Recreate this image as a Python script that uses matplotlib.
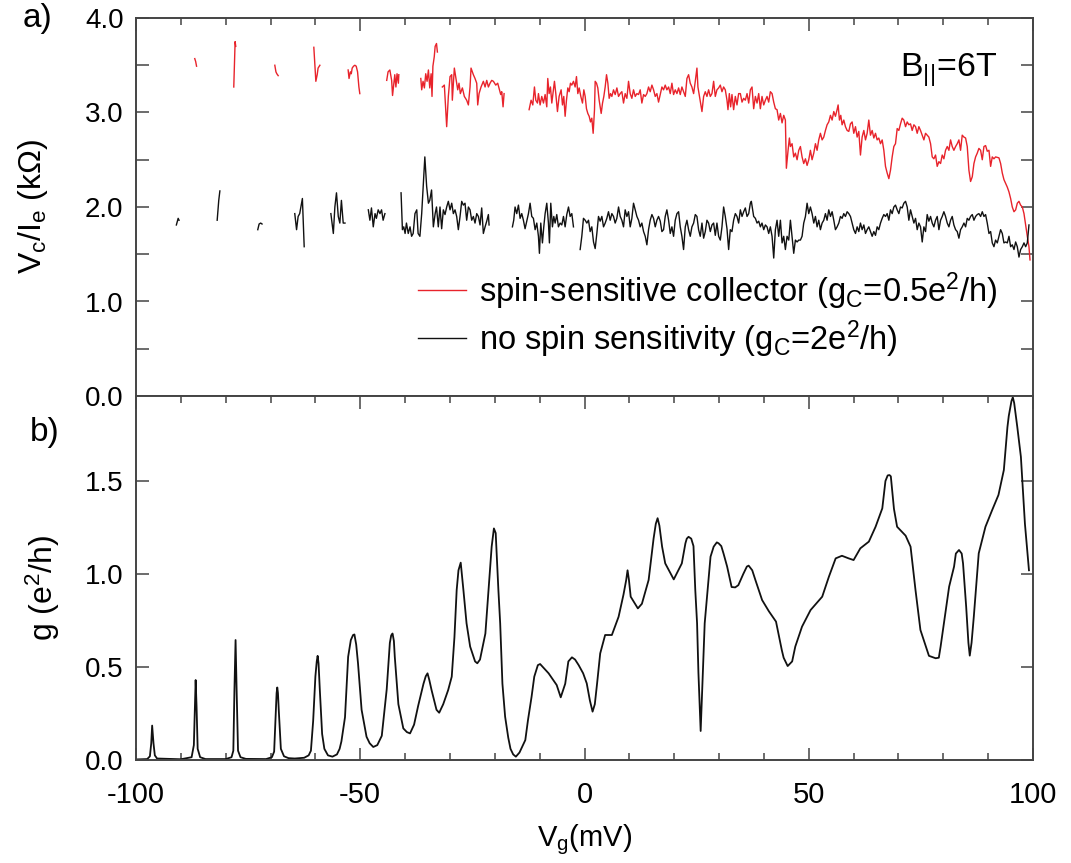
import numpy as np
import matplotlib
matplotlib.use("Agg")
import matplotlib.pyplot as plt
from matplotlib.ticker import MultipleLocator, FormatStrFormatter

plt.rcParams['font.family'] = ['Liberation Sans', 'DejaVu Sans']
plt.rcParams['mathtext.fontset'] = 'custom'
plt.rcParams['mathtext.rm'] = 'Liberation Sans'
plt.rcParams['mathtext.it'] = 'Liberation Sans'
plt.rcParams['mathtext.default'] = 'rm'
plt.rcParams['axes.unicode_minus'] = False

nan = np.nan

# ---------------- panel a: red trace (spin-sensitive collector) ----------------
red_x = [-86.9, -86.7, -86.5, nan,
         -78.2, -78.06, -77.9, -77.76, nan,
         -69.05, -68.8, -68.6, -68.3, nan,
         -60.35, -60.1, -59.9, -59.6, -59.4, -59.0, nan,
         -52.7, -52.5, -52.2, -52.0, -51.8, -51.5, -51.2, -50.9, -50.6, -50.3, -50.1, nan,
         -44.1, -43.8, -43.4, -43.0, -42.8, -42.5, -42.3, -42.05, -41.8, -41.5, -41.4, nan,
         -36.5, -36.3, -36.0, -35.7, -35.4, -35.1, -34.8, -34.5, -34.2, -34.0, -33.8, -33.5, -33.3, -33.0, -32.8, nan,
         -31.7, -31.25, -30.73, -30.36, -29.98, -29.61, -29.47, -29.02, -28.72, -28.27, -27.98, -27.68, -27.23,
         -26.79, -26.27, -25.89, -25.52, -25.30, -24.78, -24.41, -24.03, -23.81, -23.51, -23.07, -22.55, -22.17,
         -21.80, -21.43, -21.06, -20.69, -20.31, -19.79, -19.35, -18.97, -18.68, -18.45, -18.16, -17.93, nan,
         -12.35, -11.91, -11.53, -11.16, -10.86, -10.49, -10.27, -9.90, -9.53, -9.15, -8.78, -8.41, -8.19, -7.89,
         -7.59, -7.29, -6.92, -6.70, -6.40, -6.03, -5.66, -5.21, -4.91, -4.62, -4.32, -4.02, -3.72, -3.42, -3.13,
         -2.83, -2.46, -2.09, -1.79, -1.49, -1.19, -0.82, -0.45, -0.15, 0.15, 0.44, 0.74, 1.04, 1.34, 1.63, 1.93,
         2.23, 2.38, 2.68, 2.97, 3.27, 3.72, 4.02, 4.31, 4.61, 4.91, 5.21, 5.50, 5.80, 6.10, 6.47, 6.84, 7.22,
         7.59, 7.96, 8.33, 8.70, 9.07, 9.45, 9.82, 10.19, 10.56, 10.93, 11.31, 11.68, 12.05, 12.42, 12.79, 13.17,
         13.54, 13.91, 14.28, 14.65, 15.03, 15.40, 15.77, 16.14, 16.51, 16.89, 17.26, 17.63, 18.00, 18.37, 18.75,
         19.12, 19.49, 19.86, 20.23, 20.61, 20.98, 21.35, 21.72, 22.09, 22.47, 22.84, 23.21, 23.58, 23.95, 24.33,
         24.70, 25.07, 25.29, 26.19, 26.56, 26.93, 27.30, 27.67, 28.05, 28.42, 28.79, 29.16, 29.53, 29.91, 30.28,
         30.65, 31.02, 31.39, 31.77, 31.99, 32.29, 32.58, 32.88, 33.25, 33.63, 34.00, 34.37, 34.75, 35.12, 35.49,
         35.86, 36.24, 36.61, 36.98, 37.35, 37.72, 38.10, 38.47, 38.84, 39.21, 39.58, 39.96, 40.33, 40.70, 41.07,
         41.44, 41.82, 42.19, 42.56, 42.93, 43.30, 43.68, 44.05, 44.42, 44.79, 45.01, 45.39, 45.68, 45.91, 46.28,
         46.65, 47.02, 47.40, 47.77, 48.14, 48.51, 48.88, 49.26, 49.63, 50.00, 50.37, 50.74, 51.12, 51.49, 51.86,
         52.23, 52.60, 52.98, 53.35, 53.72, 54.09, 54.46, 54.84, 55.21, 55.58, 55.95, 56.32, 56.55, 56.84, 57.14,
         57.44, 57.81, 58.18, 58.56, 58.93, 59.30, 59.67, 60.04, 60.42, 60.79, 61.16, 61.53, 61.90, 62.28, 62.65,
         63.02, 63.39, 63.76, 64.14, 64.51, 64.88, 65.25, 65.62, 66.00, 66.37, 66.74, 67.11, 67.48, 67.86, 68.23,
         68.60, 68.97, 69.34, 69.72, 70.09, 70.46, 70.83, 71.20, 71.58, 71.95, 72.32, 72.69, 73.06, 73.44, 73.81,
         74.18, 74.55, 74.92, 75.30, 75.67, 76.04, 76.41, 76.78, 77.16, 77.53, 77.90, 78.27, 78.64, 79.02, 79.39,
         79.76, 80.13, 80.50, 80.88, 81.25, 81.62, 81.99, 82.36, 82.74, 83.11, 83.48, 83.85, 84.22, 84.60, 84.97,
         85.34, 85.71, 86.08, 86.46, 86.83, 87.20, 87.57, 87.94, 88.32, 88.69, 89.06, 89.43, 89.80, 90.18, 90.55,
         90.92, 91.29, 91.66, 92.41, 92.78, 93.15, 93.52, 93.90, 94.27, 94.64, 95.01, 95.38, 95.76, 96.13, 96.50,
         96.87, 97.24, 97.62, 97.99, 98.36, 98.73, 99.10, 99.33]
red_y = [3.57, 3.54, 3.49, nan,
         3.27, 3.48, 3.75, 3.70, nan,
         3.50, 3.43, 3.41, 3.39, nan,
         3.69, 3.49, 3.33, 3.40, 3.47, 3.50, nan,
         3.45, 3.36, 3.43, 3.41, 3.47, 3.49, 3.50, 3.49, 3.43, 3.27, 3.20, nan,
         3.34, 3.43, 3.45, 3.34, 3.18, 3.31, 3.40, 3.27, 3.41, 3.31, 3.40, nan,
         3.36, 3.24, 3.33, 3.26, 3.41, 3.33, 3.45, 3.26, 3.41, 3.17, 3.49, 3.59, 3.70, 3.73, 3.64, nan,
         3.27, 3.29, 2.85, 3.17, 3.38, 3.40, 3.13, 3.47, 3.38, 3.24, 3.31, 3.20, 3.26,
         3.17, 3.13, 3.08, 3.27, 3.47, 3.40, 3.36, 3.31, 3.08, 3.20, 3.27, 3.33, 3.27,
         3.34, 3.27, 3.31, 3.34, 3.33, 3.29, 3.31, 3.24, 3.19, 3.22, 3.06, 3.20, nan,
         3.03, 3.13, 3.08, 3.27, 3.13, 3.10, 3.20, 3.08, 3.17, 3.10, 3.19, 3.06, 3.36, 3.20,
         3.27, 3.10, 3.24, 3.33, 3.20, 3.01, 3.17, 3.24, 3.08, 3.17, 2.96, 3.13, 3.26, 3.22, 3.31,
         3.29, 3.33, 3.27, 3.38, 3.20, 3.26, 3.17, 3.10, 3.24, 3.17, 3.04, 2.99, 2.96, 2.90, 2.94, 2.78,
         3.03, 3.33, 3.31, 3.26, 3.13, 2.99, 3.10, 3.17, 3.27, 3.40, 3.31, 3.15, 3.20, 3.17, 3.24, 3.19, 3.26,
         3.17, 3.20, 3.22, 3.10, 3.20, 3.15, 3.33, 3.20, 3.15, 3.24, 3.17, 3.20, 3.19, 3.24, 3.10, 3.19,
         3.17, 3.20, 3.27, 3.22, 3.29, 3.24, 3.17, 3.20, 3.11, 3.19, 3.27, 3.24, 3.29, 3.24, 3.27,
         3.20, 3.31, 3.19, 3.24, 3.20, 3.26, 3.19, 3.27, 3.22, 3.17, 3.36, 3.40, 3.31, 3.27, 3.20,
         3.33, 3.47, 3.27, 3.01, 3.17, 3.22, 3.17, 3.24, 3.17, 3.20, 3.33, 3.17, 3.24, 3.26, 3.29,
         3.22, 3.27, 3.24, 3.13, 3.03, 3.20, 3.06, 3.19, 3.03, 3.17, 3.08, 3.20, 3.20, 3.11, 3.15,
         3.13, 3.20, 3.10, 3.24, 3.27, 3.04, 3.17, 3.10, 3.20, 3.04, 3.17, 3.08, 3.13, 3.17, 3.11,
         3.22, 3.20, 3.11, 3.04, 3.03, 2.92, 2.99, 2.89, 2.97, 2.92, 2.41, 2.60, 2.73, 2.64, 2.67,
         2.53, 2.57, 2.50, 2.60, 2.64, 2.53, 2.46, 2.51, 2.44, 2.50, 2.60, 2.50, 2.57, 2.67, 2.60,
         2.71, 2.78, 2.71, 2.74, 2.81, 2.87, 2.90, 2.97, 2.92, 3.01, 2.96, 3.03, 3.08, 2.92, 2.97,
         2.87, 2.92, 2.85, 2.81, 2.80, 2.88, 2.90, 2.78, 2.85, 2.74, 2.80, 2.55, 2.74, 2.81, 2.71,
         2.78, 2.92, 2.76, 2.81, 2.73, 2.78, 2.71, 2.73, 2.67, 2.71, 2.60, 2.43, 2.36, 2.30, 2.39,
         2.53, 2.64, 2.67, 2.83, 2.81, 2.88, 2.94, 2.92, 2.85, 2.90, 2.87, 2.88, 2.81, 2.87, 2.85,
         2.78, 2.85, 2.81, 2.76, 2.71, 2.78, 2.76, 2.74, 2.67, 2.53, 2.51, 2.55, 2.43, 2.48, 2.46,
         2.55, 2.51, 2.60, 2.64, 2.60, 2.71, 2.64, 2.60, 2.64, 2.67, 2.71, 2.60, 2.76, 2.74, 2.73,
         2.64, 2.39, 2.27, 2.32, 2.46, 2.53, 2.57, 2.62, 2.60, 2.50, 2.64, 2.65, 2.59, 2.60, 2.43,
         2.53, 2.51, 2.53, 2.52, 2.46, 2.36, 2.29, 2.25, 2.21, 2.16, 2.09, 2.00, 1.95, 1.97, 2.04,
         2.06, 2.02, 2.00, 1.93, 1.81, 1.69, 1.58, 1.44]

# ---------------- panel a: black trace (no spin sensitivity) ----------------
black_x = [-91.0, -90.6, -90.4, nan,
           -81.9, -81.55, -81.3, nan,
           -72.85, -72.55, -72.2, -71.9, nan,
           -64.6, -64.2, -63.85, -63.5, -63.1, -62.9, -62.5, nan,
           -56.55, -56.0, -55.66, -55.3, -54.9, -54.55, -54.2, -53.8, -53.4, nan,
           -48.2, -47.85, -47.5, -47.1, -46.7, -46.4, -46.0, -45.6, -45.25, -44.9, -44.5, nan,
           -40.9, -40.6, -40.3, -40.0, -39.7, -39.3, -38.9, -38.55, -38.2, -37.8, -37.4, -37.1, -36.7, -36.3,
           -35.95, -35.6, -35.2, -34.8, -34.5, -34.1, -33.7, -33.3, -33.0, -32.6, -32.22, -31.85, -31.47, -31.10,
           -30.73, -30.36, -29.98, -29.61, -29.24, -28.87, -28.50, -28.13, -27.75, -27.38, -27.01, -26.64, -26.27,
           -25.89, -25.52, -25.15, -24.78, -24.41, -24.03, -23.66, -23.29, -22.92, -22.55, -22.17, -21.80, -21.43,
           -21.28, nan,
           -16.07, -15.78, -15.48, -15.11, -14.73, -14.36, -13.99, -13.62, -13.25, -12.87, -12.50, -12.13, -11.76,
           -11.39, -11.01, -10.64, -10.27, -10.05, -9.75, -9.38, -9.08, -8.78, -8.41, -8.04, -7.82, -7.52, -7.15,
           -6.85, -6.55, -6.18, -5.81, -5.43, -5.06, -4.69, -4.32, -3.95, -3.57, -3.20, -2.83, -2.46, nan,
           -0.97, -0.60, -0.23, 0.15, 0.52, 0.89, 1.26, 1.63, 2.01, 2.38, 2.75, 3.12, 3.49, 3.87, 4.24, 4.61,
           4.98, 5.35, 5.73, 6.10, 6.47, 6.84, 7.21, 7.59, 7.96, 8.33, 8.70, 9.07, 9.45, 9.82, 10.19, 10.56,
           10.93, 11.31, 11.68, 12.05, 12.42, 12.79, 13.17, 13.54, 13.91, 14.28, 14.65, 15.03, 15.40, 15.77,
           16.14, 16.51, 16.89, 17.26, 17.63, 18.00, 18.37, 18.75, 19.12, 19.49, 19.86, 20.23, 20.61, 20.98,
           21.35, 21.72, 22.09, 22.47, 22.84, 23.21, 23.58, 23.95, 24.33, 24.70, 25.07, 25.44, 25.81, 26.19,
           26.56, 26.93, 27.30, 27.67, 28.05, 28.42, 28.79, 29.16, 29.53, 29.91, 30.28, 30.65, 31.02, 31.39,
           31.77, 32.14, 32.51, 32.88, 33.25, 33.63, 34.00, 34.37, 34.75, 35.12, 35.49, 35.86, 36.24, 36.61,
           36.98, 37.20, 37.50, 37.72, 38.10, 38.47, 38.84, 39.21, 39.58, 39.96, 40.33, 40.70, 41.07, 41.44,
           41.82, 42.19, 42.56, 42.93, 43.30, 43.68, 44.05, 44.42, 44.79, 45.16, 45.54, 45.91, 46.28, 46.65,
           47.02, 47.40, 47.77, 48.14, 48.51, 48.88, 49.26, 49.63, 50.00, 50.37, 50.74, 51.12, 51.49, 51.86,
           52.23, 52.60, 52.98, 53.35, 53.72, 54.09, 54.46, 54.84, 55.21, 55.58, 55.95, 56.32, 56.70, 57.07,
           57.44, 57.81, 58.18, 58.56, 58.93, 59.30, 59.67, 60.04, 60.42, 60.79, 61.16, 61.53, 61.90, 62.28,
           62.65, 63.02, 63.39, 63.76, 64.14, 64.51, 64.88, 65.25, 65.62, 66.00, 66.37, 66.74, 67.11, 67.48,
           67.86, 68.23, 68.60, 68.97, 69.34, 69.72, 70.09, 70.46, 70.83, 71.20, 71.58, 71.95, 72.32, 72.69,
           73.06, 73.44, 73.81, 74.18, 74.55, 74.92, 75.30, 75.67, 76.04, 76.41, 76.78, 77.16, 77.53, 77.90,
           78.27, 78.64, 79.02, 79.39, 79.76, 80.13, 80.50, 80.88, 81.25, 81.62, 81.99, 82.36, 82.74, 83.11,
           83.48, 83.85, 84.22, 84.60, 84.97, 85.34, 85.71, 86.08, 86.46, 86.83, 87.20, 87.57, 87.94, 88.32,
           88.69, 89.06, 89.43, 89.80, 90.18, 90.55, 90.92, 91.29, 91.66, 92.04, 92.41, 92.78, 93.15, 93.52,
           93.90, 94.27, 94.64, 95.01, 95.38, 95.76, 96.13, 96.50, 96.87, 97.24, 97.62, 97.99, 98.36, 98.73,
           99.10]
black_y = [1.81, 1.88, 1.86, nan,
           1.86, 2.07, 2.17, nan,
           1.76, 1.82, 1.83, 1.82, nan,
           1.93, 1.76, 1.90, 1.93, 2.04, 2.09, 1.58, nan,
           1.93, 1.72, 2.00, 2.15, 1.90, 1.83, 2.07, 1.83, 1.83, nan,
           1.97, 1.86, 1.99, 1.79, 1.93, 1.88, 1.97, 1.93, 1.97, 1.86, 1.93, nan,
           2.15, 1.76, 1.79, 1.72, 1.83, 1.72, 1.79, 1.69, 1.72, 1.93, 1.97, 1.72, 1.69, 1.93,
           2.22, 2.53, 2.22, 2.04, 2.07, 2.18, 1.79, 1.93, 2.00, 1.79, 2.00, 1.77, 1.97, 1.92,
           2.00, 2.06, 1.97, 2.04, 1.93, 1.97, 1.90, 1.76, 1.90, 2.06, 2.02, 2.04, 1.86,
           2.00, 1.97, 1.86, 1.90, 1.83, 1.93, 1.90, 1.81, 1.99, 1.72, 1.79, 1.85, 1.92,
           1.81, nan,
           1.79, 1.86, 2.00, 1.93, 2.02, 1.88, 1.93, 1.86, 1.77, 1.85, 1.93, 2.04, 1.90,
           1.88, 1.76, 1.83, 1.69, 1.51, 1.83, 1.62, 1.79, 1.93, 2.04, 1.83, 1.62, 2.04, 1.79,
           1.90, 1.83, 1.92, 1.79, 1.83, 1.81, 1.90, 1.79, 1.92, 2.00, 1.90, 1.93, 1.79, nan,
           1.55, 1.69, 1.88, 1.86, 1.83, 1.86, 1.74, 1.79, 1.63, 1.56, 1.72, 1.90, 1.85, 1.90, 1.79, 1.83,
           1.88, 1.95, 1.86, 1.93, 1.90, 1.83, 1.88, 2.00, 1.90, 1.86, 1.79, 1.97, 1.90, 1.95, 1.79, 1.88,
           2.04, 1.97, 1.90, 1.86, 1.79, 1.83, 1.74, 1.69, 1.60, 1.76, 1.86, 1.92, 1.88, 1.79,
           1.86, 1.90, 1.85, 1.74, 1.76, 1.90, 1.97, 1.86, 1.72, 1.79, 1.69, 1.86, 1.93, 1.95,
           1.79, 1.69, 1.55, 1.79, 1.86, 1.76, 1.69, 1.79, 1.83, 1.92, 1.90, 1.76, 1.69, 1.83,
           1.67, 1.74, 1.86, 1.83, 1.74, 1.81, 1.83, 1.70, 1.83, 1.69, 1.65, 1.79, 2.00, 1.90,
           1.77, 1.55, 1.76, 1.74, 1.86, 1.93, 1.90, 1.83, 1.97, 1.90, 1.95, 1.99, 1.90, 1.93,
           2.04, 2.06, 1.97, 1.90, 1.88, 1.83, 1.85, 1.79, 1.83, 1.76, 1.81, 1.79, 1.72, 1.79,
           1.69, 1.46, 1.76, 1.86, 1.69, 1.86, 1.62, 1.69, 1.55, 1.69, 1.65, 1.86, 1.69, 1.51,
           1.65, 1.63, 1.65, 1.65, 1.69, 1.83, 1.90, 2.04, 1.93, 2.00, 1.93, 1.83, 1.90, 1.79,
           1.86, 1.76, 1.83, 1.86, 1.93, 1.86, 1.97, 1.90, 1.95, 1.86, 1.76, 1.79, 1.83, 1.90,
           1.88, 1.93, 1.90, 1.95, 1.93, 1.90, 1.83, 1.76, 1.72, 1.79, 1.74, 1.83, 1.76, 1.81,
           1.72, 1.76, 1.79, 1.74, 1.69, 1.74, 1.70, 1.79, 1.76, 1.83, 1.88, 1.92, 1.90, 1.93,
           1.86, 1.97, 1.93, 2.00, 2.02, 1.97, 1.93, 2.00, 1.99, 2.04, 2.06, 2.00, 1.86, 1.97,
           1.90, 1.83, 1.88, 1.76, 1.83, 1.79, 1.63, 1.79, 1.74, 1.92, 1.85, 1.90, 1.83, 1.79,
           1.86, 1.90, 1.76, 1.86, 1.90, 1.95, 1.90, 1.83, 1.79, 1.86, 1.90, 1.81, 1.76, 1.74,
           1.67, 1.76, 1.79, 1.83, 1.79, 1.88, 1.86, 1.90, 1.92, 1.86, 1.90, 1.92, 1.93, 1.90,
           1.95, 1.90, 1.92, 1.83, 1.72, 1.74, 1.62, 1.58, 1.65, 1.62, 1.69, 1.76, 1.72, 1.62,
           1.63, 1.62, 1.69, 1.58, 1.60, 1.55, 1.63, 1.58, 1.47, 1.55, 1.58, 1.62, 1.58, 1.62,
           1.81]

# ---------------- panel b: conductance ----------------
g_x = [-100.0, -97.5, -96.9, -96.6, -96.4, -96.1, -95.8, -95.3, -90.0, -87.6, -87.1, -86.85, -86.7,
       -86.5, -86.25, -85.7, -84.5, -80.0, -78.7, -78.3, -78.05, -77.8, -77.55, -77.25, -76.7, -75.5,
       -71.0, -69.7, -69.2, -68.85, -68.65, -68.5, -68.35, -68.15, -67.7, -67.0, -66.0, -64.6, -62.5,
       -61.5, -61.0, -60.5, -60.0, -59.7, -59.5, -59.3, -59.0, -58.5, -58.0, -57.2, -56.2, -55.2,
       -54.6, -54.2, -53.4, -52.7, -52.1, -51.6, -51.3, -50.9, -50.5, -49.7, -48.6, -47.9, -47.1,
       -46.2, -45.2, -44.1, -43.4, -43.1, -42.8, -42.5, -42.3, -41.5, -40.4, -39.6, -38.9, -38.0,
       -37.1, -35.9, -35.4, -35.0, -34.6, -34.1, -33.0, -32.4, -31.5, -30.4, -29.6, -29.0, -28.5,
       -28.1, -27.6, -27.0, -26.3, -25.5, -24.4, -23.9, -23.3, -22.1, -21.4, -20.7, -20.2, -19.8,
       -19.2, -18.8, -18.3, -17.7, -17.0, -16.5, -15.9, -15.3, -14.5, -13.2, -12.6, -11.8, -11.2,
       -10.4, -9.9, -9.3, -8.0, -6.2, -5.3, -4.3, -3.6, -2.8, -2.1, -1.3, -0.3, 0.5, 1.2, 1.8, 2.3,
       2.8, 3.5, 4.6, 6.1, 7.6, 8.7, 9.3, 9.6, 9.9, 10.3, 11.9, 12.8, 14.3, 15.4, 15.9, 16.3, 16.7,
       17.3, 18.0, 19.9, 21.7, 22.5, 22.8, 23.2, 23.8, 24.3, 24.7, 25.1, 25.4, 25.9, 26.4, 26.8,
       28.1, 28.8, 29.5, 29.9, 30.5, 31.0, 31.8, 32.8, 33.6, 34.3, 35.4, 36.2, 36.6, 37.4, 38.1,
       39.6, 41.1, 42.7, 44.0, 44.4, 45.3, 46.3, 47.0, 48.5, 50.4, 53.0, 54.5, 56.0, 57.4, 58.9,
       60.0, 61.5, 63.4, 64.9, 66.4, 67.1, 67.6, 68.0, 68.3, 69.0, 69.7, 71.6, 72.7, 73.8, 74.9,
       76.0, 76.8, 78.3, 79.0, 79.4, 81.3, 82.4, 82.8, 83.5, 84.1, 84.4, 85.1, 85.6, 85.9, 86.3,
       86.8, 87.9, 89.4, 90.9, 92.3, 93.5, 94.3, 94.6, 95.2, 95.5, 95.8, 96.1, 96.5, 97.3, 98.2,
       99.1]
g_y = [0.003, 0.005, 0.02, 0.09, 0.185, 0.09, 0.025, 0.008, 0.004, 0.015, 0.08, 0.30, 0.43,
       0.29, 0.06, 0.015, 0.005, 0.005, 0.015, 0.05, 0.38, 0.645, 0.36, 0.05, 0.015, 0.006,
       0.005, 0.015, 0.045, 0.25, 0.36, 0.39, 0.36, 0.26, 0.06, 0.02, 0.01, 0.008, 0.012,
       0.025, 0.05, 0.21, 0.45, 0.53, 0.56, 0.52, 0.37, 0.14, 0.06, 0.025, 0.018, 0.03,
       0.06, 0.10, 0.23, 0.555, 0.645, 0.672, 0.675, 0.62, 0.52, 0.27, 0.125, 0.09, 0.07,
       0.08, 0.13, 0.38, 0.63, 0.67, 0.68, 0.64, 0.555, 0.30, 0.17, 0.15, 0.143, 0.19,
       0.29, 0.41, 0.45, 0.466, 0.43, 0.376, 0.27, 0.254, 0.30, 0.376, 0.448, 0.66, 0.914,
       1.02, 1.061, 0.914, 0.735, 0.61, 0.53, 0.52, 0.54, 0.68, 0.914, 1.147, 1.245, 1.22,
       0.914, 0.735, 0.41, 0.233, 0.12, 0.06, 0.03, 0.018, 0.04, 0.107, 0.215, 0.34, 0.448,
       0.51, 0.516, 0.50, 0.466, 0.403, 0.337, 0.41, 0.53, 0.552, 0.54, 0.51, 0.466, 0.412, 0.32, 0.26, 0.30,
       0.41, 0.573, 0.672, 0.672, 0.77, 0.89, 0.968, 1.02, 0.97, 0.878, 0.815, 0.84, 0.968, 1.19, 1.27, 1.30, 1.26,
       1.147, 1.057, 0.971, 1.057, 1.165, 1.19, 1.20, 1.19, 1.15, 0.914, 0.735, 0.47, 0.156, 0.47, 0.735,
       1.093, 1.147, 1.17, 1.165, 1.15, 1.11, 1.04, 0.93, 0.928, 0.94, 1.00, 1.04, 1.045, 1.02, 0.968,
       0.86, 0.80, 0.744, 0.59, 0.55, 0.505, 0.53, 0.61, 0.717, 0.806, 0.878, 0.986, 1.084, 1.098, 1.084,
       1.075, 1.138, 1.174, 1.254, 1.353, 1.50, 1.53, 1.532, 1.525, 1.35, 1.254, 1.206, 1.147, 0.914, 0.699,
       0.618, 0.56, 0.547, 0.55, 0.61, 0.932, 1.04, 1.11, 1.129, 1.11, 1.057, 0.824, 0.63, 0.561, 0.63,
       0.77, 1.111, 1.254, 1.344, 1.425, 1.559, 1.79, 1.85, 1.93, 1.95, 1.92, 1.863, 1.79, 1.63, 1.27,
       1.02]

red_label = 'spin-sensitive collector (g$_{\\mathrm{C}}$=0.5e$^{2}$/h)'
black_label = 'no spin sensitivity (g$_{\\mathrm{C}}$=2e$^{2}$/h)'

W, H = 1071, 863
fig = plt.figure(figsize=(W / 100, H / 100), dpi=100)
left, right = 136 / W, 1033 / W
ax1 = fig.add_axes([left, 1 - 396 / H, right - left, (396 - 18) / H])
ax2 = fig.add_axes([left, 1 - 760 / H, right - left, (760 - 396) / H])

spine_c = '#444444'
red_c = '#e8232b'
for ax in (ax1, ax2):
    for s in ax.spines.values():
        s.set_color(spine_c)
        s.set_linewidth(1.4)
    ax.set_xlim(-100, 100)
    ax.xaxis.set_major_locator(MultipleLocator(50))
    ax.xaxis.set_minor_locator(MultipleLocator(10))
    ax.yaxis.set_major_locator(MultipleLocator(0.5))
    ax.tick_params(which='both', direction='in', color=spine_c, width=1.1,
                   labelsize=20, pad=9)
    ax.tick_params(which='major', length=9)
    ax.tick_params(which='minor', length=5)

ax1.plot(red_x, red_y, color=red_c, lw=1.0, label=red_label)
ax1.plot(black_x, black_y, color='#111111', lw=1.0, label=black_label)
ax1.set_ylim(0, 4.0)
ax1.yaxis.set_major_locator(MultipleLocator(1.0))
ax1.yaxis.set_minor_locator(MultipleLocator(0.5))
ax1.yaxis.set_major_formatter(FormatStrFormatter('%.1f'))
ax1.tick_params(which='both', top=True, bottom=False, right=True, labelbottom=False)
ax1.tick_params(axis='y', which='minor', length=9)
ax1.set_ylabel('V$_{\\mathrm{c}}$/I$_{\\mathrm{e}}$ (k\u03a9)', fontsize=23)
ax1.yaxis.set_label_coords((50 - 136) / 897, (396 - 206) / 378)

leg = ax1.legend(loc='center left', bbox_to_anchor=(418 / W, 1 - 315 / H),
                 bbox_transform=fig.transFigure, frameon=False, fontsize=23.5,
                 handlelength=1.47, handletextpad=0.4, labelspacing=0.2,
                 borderpad=0, borderaxespad=0)

ax2.plot(g_x, g_y, color='#111111', lw=1.3)
ax2.set_ylim(0, 1.957)
ax2.yaxis.set_major_formatter(FormatStrFormatter('%.1f'))
ax2.tick_params(which='both', top=True, right=True)
ax2.tick_params(axis='x', labelsize=21, pad=15)
ax2.set_ylabel('g (e$^{2}$/h)', fontsize=23)
ax2.yaxis.set_label_coords((62 - 136) / 897, (760 - 588) / 364)
ax2.set_xlabel('V$_{\\mathrm{g}}$(mV)', fontsize=21, labelpad=10)

fig.text(37 / W, 1 - 19 / H, 'a)', fontsize=24, ha='center', va='center')
fig.text(45 / W, 1 - 432 / H, 'b)', fontsize=24, ha='center', va='center')
fig.text(949 / W, 1 - 70 / H, 'B$_{||}$=6T', fontsize=24.5, ha='center', va='center')

fig.savefig('out.png', dpi=100)
